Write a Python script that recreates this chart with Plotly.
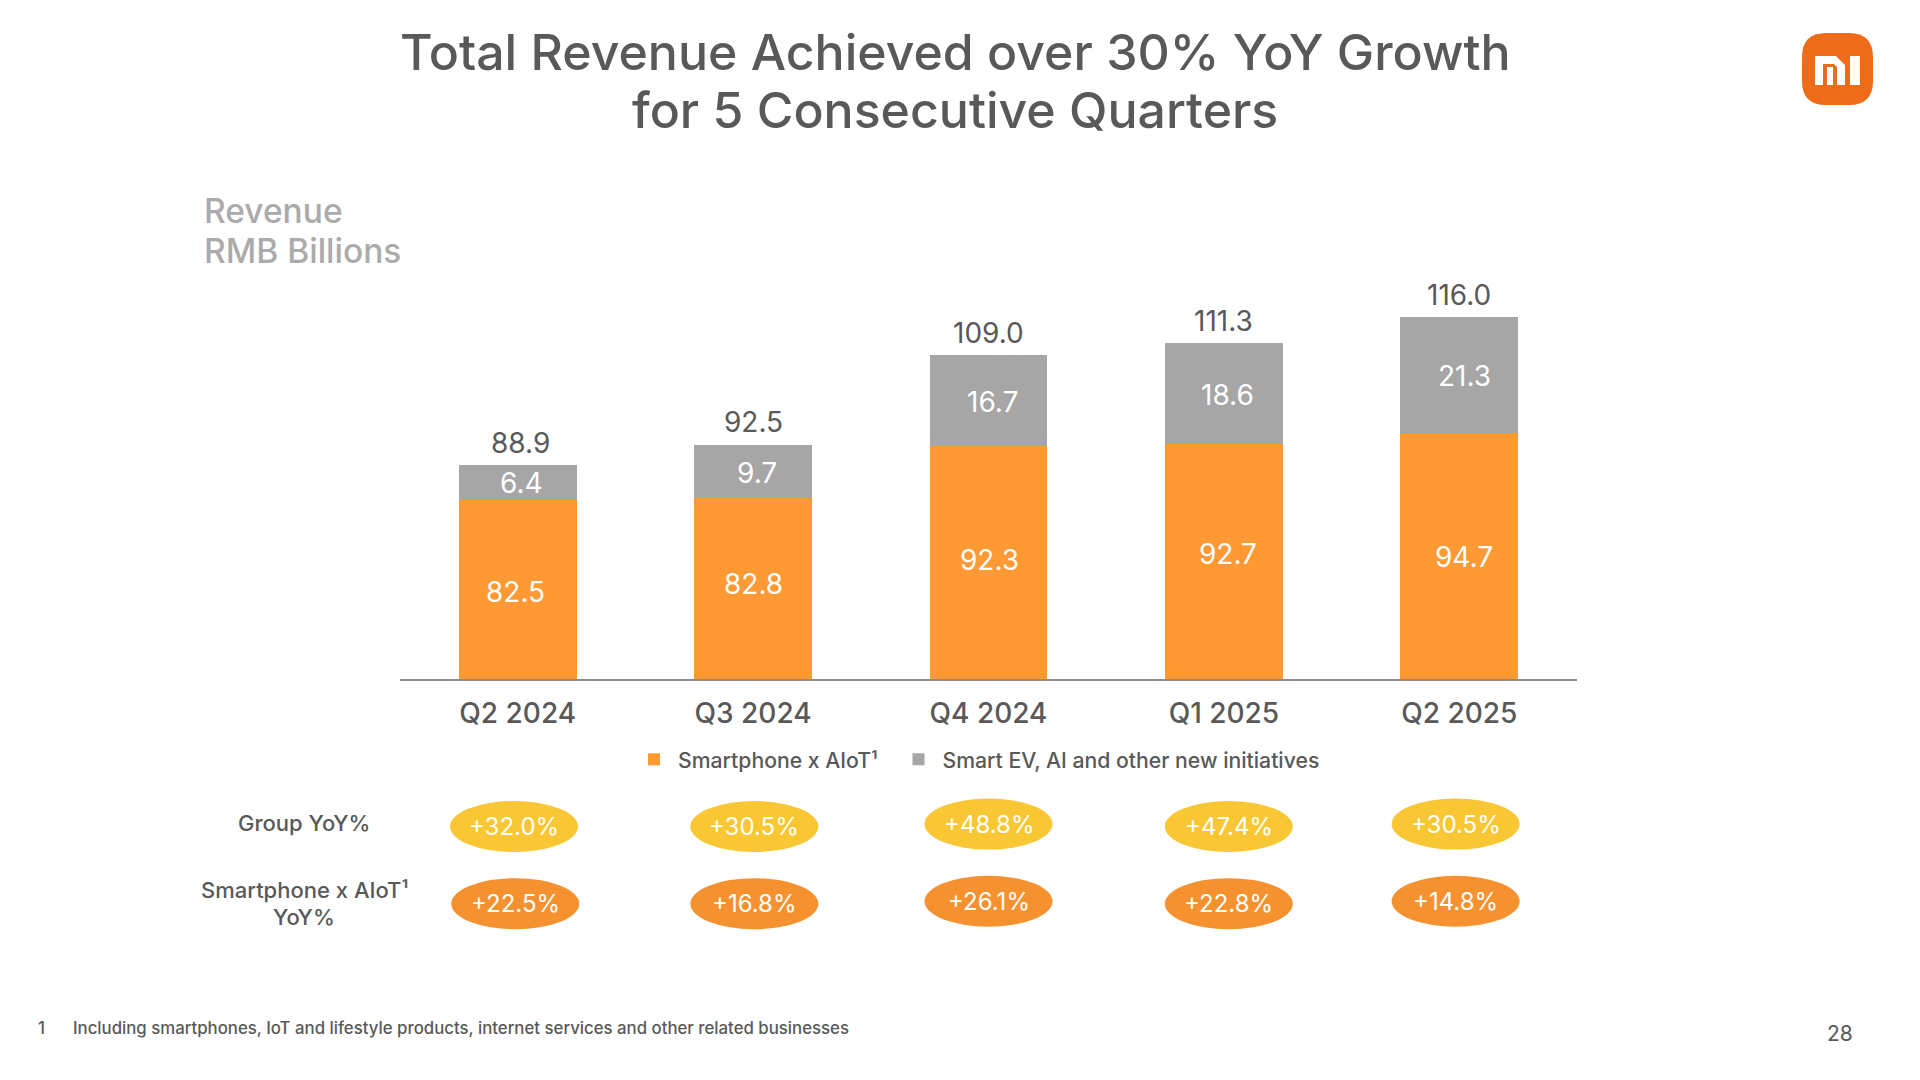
import plotly.graph_objects as go

quarters = ["Q2 2024", "Q3 2024", "Q4 2024", "Q1 2025", "Q2 2025"]
smartphone = [82.5, 82.8, 92.3, 92.7, 94.7]
ev = [6.4, 9.7, 16.7, 18.6, 21.3]
totals = [88.9, 92.5, 109.0, 111.3, 116.0]
group_yoy = ["+32.0%", "+30.5%", "+48.8%", "+47.4%", "+30.5%"]
smart_yoy = ["+22.5%", "+16.8%", "+26.1%", "+22.8%", "+14.8%"]

FONT = "Inter"
TEXT = "#595959"
ORANGE = "#FF9933"
GRAY = "#A6A6A6"
Y_FLOOR = 49.6
Y_TOP = 119.14
L, R, T, B = 400, 1577, 300, 679
S = 1.2245


def px(x):
    return (x - L) / (R - L)


def py(y):
    return (B - y) / (B - T)


fig = go.Figure()
fig.add_bar(name="Smartphone x AIoT¹", x=quarters, y=smartphone, legend="legend", showlegend=True,
            marker=dict(color=ORANGE, line_width=0))
fig.add_bar(name="Smart EV, AI and other new initiatives", x=quarters, y=ev, legend="legend2", showlegend=True,
            marker=dict(color=GRAY, line_width=0))

ann = []


def text(x, y, s, size, color=TEXT, anchor="center", weight=400):
    ann.append(dict(xref="paper", yref="paper", x=px(x), y=py(y), text=s, showarrow=False,
                    xanchor=anchor, yanchor="middle", align="center",
                    font=dict(family=FONT, size=size, color=color, weight=weight)))


# value labels tied to the data axes
off_orange = [(-2, 2), (0, -3.5), (1, -2), (3, -6), (4, 1)]
off_ev = [(3, 1), (3, 1.5), (3, 1), (3, 1.5), (4, 1)]
off_total = [(2, -18), (0, -19), (0, -18), (0, -18), (0, -18)]
for i, q in enumerate(quarters):
    for yv, lab, off, col in (
        ((Y_FLOOR + smartphone[i]) / 2, smartphone[i], off_orange[i], "white"),
        (smartphone[i] + ev[i] / 2, ev[i], off_ev[i], "white"),
        (totals[i], totals[i], off_total[i], TEXT),
    ):
        ann.append(dict(xref="x", yref="y", x=q, y=yv, text=f"{lab:.1f}", showarrow=False,
                        xshift=off[0] * S, yshift=-off[1] * S, xanchor="center", yanchor="middle",
                        font=dict(family=FONT, size=28, color=col)))

# pills
shapes = []
pill_off = [[-3, 1, 0, 4, -3], [-2, 1, 0, 4, -3]]
row_y = [[675, 675, 673, 675, 673], [738, 738, 736, 738, 736]]
pill_col = ["#F9C733", "#F5922F"]
for r, vals in enumerate((group_yoy, smart_yoy)):
    for i, q in enumerate(quarters):
        dx = pill_off[r][i] * S
        yc = row_y[r][i] * S
        shapes.append(dict(type="circle", xref="x", xsizemode="pixel", xanchor=q,
                           x0=dx - 64, x1=dx + 64, yref="paper", ysizemode="pixel",
                           yanchor=py(yc), y0=-25.5, y1=25.5,
                           fillcolor=pill_col[r], line_width=0, layer="below"))
        ann.append(dict(xref="x", yref="paper", x=q, xshift=dx, y=py(yc), text=vals[i],
                        showarrow=False, xanchor="center", yanchor="middle",
                        font=dict(family=FONT, size=24, color="white")))

# title and side texts
text(955, 52, "Total Revenue Achieved over 30% YoY Growth", 50, weight=500)
text(955, 110, "for 5 Consecutive Quarters", 50, weight=500)
text(202, 211, "Revenue", 33.5, "#ABABAB", "left", 500)
text(202, 251, "RMB Billions", 33.5, "#ABABAB", "left", 500)
text(304, 823, "Group YoY%", 22, weight=500)
text(304, 890, "Smartphone x AIoT¹", 22, weight=500)
text(304, 917, "YoY%", 22, weight=500)
text(36, 1028, "1", 16.8, anchor="left", weight=500)
text(71, 1028, "Including smartphones, IoT and lifestyle products, internet services and other related businesses",
     16.8, anchor="left", weight=500)
text(1840, 1033, "28", 21)


# logo
def path_px(points):
    return "M" + " L".join(f"{px(a):.5f},{py(b):.5f}" for a, b in points) + " Z"


def rounded(x0, y0, x1, y1, r):
    return (f"M{px(x0 + r):.5f},{py(y0):.5f} L{px(x1 - r):.5f},{py(y0):.5f} "
            f"Q{px(x1):.5f},{py(y0):.5f} {px(x1):.5f},{py(y0 + r):.5f} "
            f"L{px(x1):.5f},{py(y1 - r):.5f} Q{px(x1):.5f},{py(y1):.5f} {px(x1 - r):.5f},{py(y1):.5f} "
            f"L{px(x0 + r):.5f},{py(y1):.5f} Q{px(x0):.5f},{py(y1):.5f} {px(x0):.5f},{py(y1 - r):.5f} "
            f"L{px(x0):.5f},{py(y0 + r):.5f} Q{px(x0):.5f},{py(y0):.5f} {px(x0 + r):.5f},{py(y0):.5f} Z")


logo = [rounded(1802, 33, 1873, 105, 24)]
white = [
    path_px([(1815, 56), (1836, 56), (1845, 65), (1845, 85), (1837, 85), (1837, 67), (1834, 64), (1823, 64), (1823, 85), (1815, 85)]),
    path_px([(1827, 67), (1833, 67), (1833, 85), (1827, 85)]),
    path_px([(1850, 56), (1860, 56), (1860, 85), (1850, 85)]),
]
for p in logo:
    shapes.append(dict(type="path", xref="paper", yref="paper", path=p, fillcolor="#EE6C19", line_width=0))
for p in white:
    shapes.append(dict(type="path", xref="paper", yref="paper", path=p, fillcolor="white", line_width=0))

legend_style = dict(orientation="h", xanchor="left", yanchor="top", itemwidth=38,
                    font=dict(family=FONT, size=21.2, color=TEXT, weight=500),
                    bgcolor="rgba(0,0,0,0)")
fig.update_layout(
    width=1920, height=1080, barmode="stack", bargap=0.5, showlegend=True,
    margin=dict(l=L, r=1920 - R, t=T, b=1080 - B, pad=0),
    paper_bgcolor="white", plot_bgcolor="white",
    font=dict(family=FONT, color=TEXT),
    annotations=ann, shapes=shapes,
    legend=dict(x=px(630), y=py(739), **legend_style),
    legend2=dict(x=px(894.5), y=py(739), **legend_style),
    xaxis=dict(type="category", categoryorder="array", categoryarray=quarters, showgrid=False,
               ticks="", ticklabelstandoff=9, linecolor="#8C8C8C", linewidth=1.5, showline=True,
               tickfont=dict(family=FONT, size=28, color=TEXT, weight=500), zeroline=False),
    yaxis=dict(range=[Y_FLOOR, Y_TOP], visible=False),
)
fig.write_html("out.html", config=dict(displayModeBar=False),
               post_script="document.body.style.margin='0';")
